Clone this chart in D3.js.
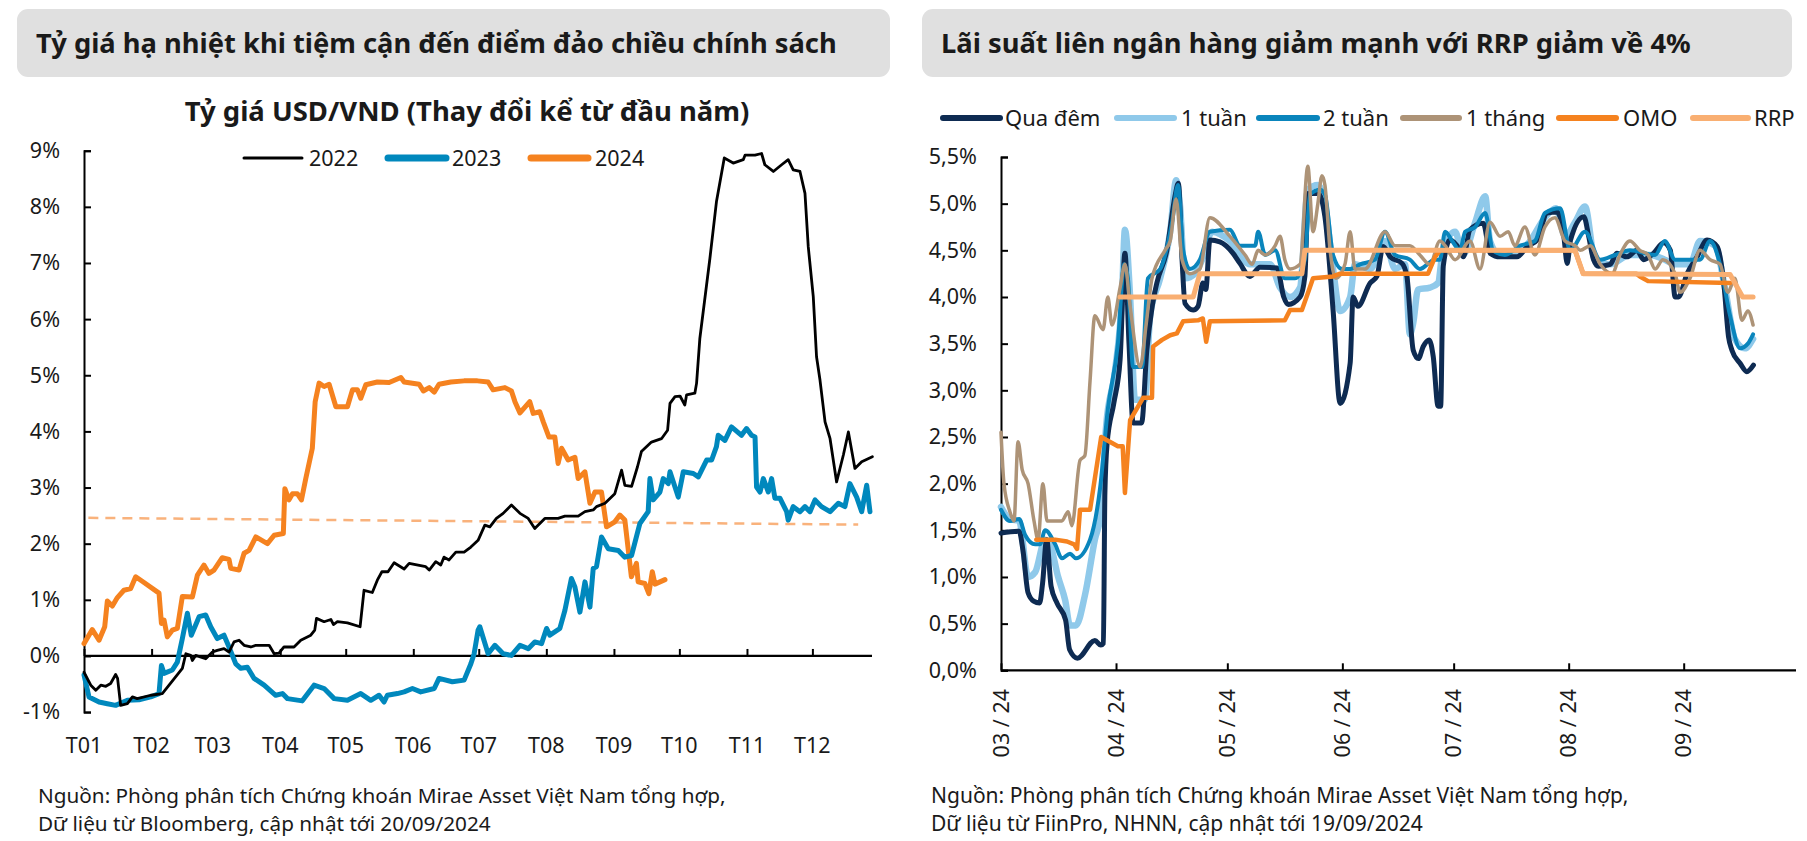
<!DOCTYPE html>
<html><head><meta charset="utf-8">
<script src="https://cdn.jsdelivr.net/npm/d3@7"></script>
<style>
body{margin:0;background:#fff;}
text{font-family:"Noto Sans","Open Sans",sans-serif;fill:#1a1a1a;}
</style>
</head><body>
<svg id="c" width="1807" height="841"></svg>
<script>
// ---------------- LEFT CHART DATA (day of year, % change YTD) ----------------
const leftYears = ["2022", "2023", "2024"];
const monthDays = [0,31,59,90,120,151,181,212,243,273,304,334];
const monthLabels = ["T01","T02","T03","T04","T05","T06","T07","T08","T09","T10","T11","T12"];
const leftYTicks = [-1,0,1,2,3,4,5,6,7,8,9];

const fx2022 = [[0,-0.29],[3.1,-0.52],[5.4,-0.61],[7.7,-0.52],[10,-0.54],[12.2,-0.49],[14.5,-0.33],[15.4,-0.40],[16.8,-0.88],[19.9,-0.85],[22.2,-0.73],[24.4,-0.76],[30.6,-0.70],[35.9,-0.67],[39,-0.52],[42.1,-0.37],[45.1,-0.22],[46.7,0.04],[48.9,0.01],[49.7,-0.08],[51.2,0.01],[55.8,-0.05],[58.9,0.07],[61.1,0.10],[64.2,0.13],[66.5,0.07],[68.8,0.25],[71.1,0.28],[73.4,0.19],[76.5,0.16],[78.8,0.19],[84.9,0.19],[87.2,0.04],[89.4,0.05],[91.7,0.16],[96.3,0.16],[99.4,0.28],[104,0.37],[105.8,0.46],[106.6,0.67],[110.1,0.61],[113.2,0.65],[114.4,0.56],[116.2,0.61],[120.8,0.59],[126.6,0.52],[128.4,1.17],[132.2,1.13],[134.5,1.35],[136.6,1.50],[139.4,1.50],[142.2,1.66],[146.8,1.55],[149.1,1.65],[156.7,1.59],[158.3,1.53],[161.3,1.68],[163.6,1.62],[165.1,1.76],[167.4,1.71],[170.5,1.85],[174.3,1.85],[177.4,1.94],[180.7,2.06],[183.8,2.33],[186.1,2.30],[189.1,2.45],[192.2,2.54],[196,2.69],[199.9,2.54],[203.7,2.45],[206.7,2.27],[211.3,2.45],[217.4,2.45],[220.5,2.49],[226.6,2.49],[229.7,2.57],[233.5,2.60],[235,2.66],[238.9,2.72],[243.4,2.89],[246.5,3.31],[248,3.04],[251.1,3.02],[253.8,3.37],[255.6,3.64],[260.2,3.81],[264.8,3.87],[267.6,4.02],[268.7,4.50],[271,4.62],[273.3,4.63],[275.5,4.47],[276.3,4.65],[280.1,4.68],[280.9,4.86],[282.4,5.66],[287,7.08],[290,8.09],[293.6,8.87],[297.7,8.78],[302.3,8.84],[303.1,8.92],[307.7,8.92],[310.7,8.95],[312.2,8.75],[316.1,8.63],[319.9,8.75],[322.9,8.84],[325.2,8.66],[328.3,8.63],[330.6,8.24],[332.1,7.29],[334.4,6.40],[335.9,5.33],[337.5,4.91],[339.8,4.17],[342.1,3.87],[345.1,3.10],[348.2,3.58],[350.5,3.99],[353.5,3.34],[356.6,3.46],[361.5,3.55]];

const fx2023 = [[0,-0.34],[2.3,-0.73],[6.9,-0.82],[10.7,-0.85],[14.5,-0.88],[19.9,-0.79],[25.2,-0.78],[30.6,-0.73],[34.4,-0.67],[35.5,-0.17],[36.7,-0.31],[40.5,-0.25],[42.8,-0.11],[45.1,0.31],[47.4,0.76],[49.2,0.37],[51.2,0.55],[52.8,0.70],[55.8,0.73],[58.1,0.52],[61.1,0.31],[64.2,0.37],[66.5,0.16],[69.6,-0.14],[71.9,-0.22],[74.9,-0.20],[78,-0.40],[82.6,-0.52],[87.9,-0.70],[91,-0.67],[93.3,-0.76],[100.1,-0.80],[105.5,-0.52],[110.1,-0.58],[114.7,-0.76],[120.8,-0.79],[126.9,-0.67],[131.5,-0.79],[135.3,-0.70],[137.6,-0.82],[139.1,-0.70],[143.7,-0.67],[146.8,-0.64],[150.6,-0.58],[154.4,-0.64],[160.6,-0.58],[162.8,-0.40],[168.9,-0.46],[174.3,-0.43],[177.4,-0.14],[178.9,0.04],[180.7,0.46],[181.5,0.52],[185.3,0.04],[188.4,0.19],[192.2,0.04],[196,0.01],[199.9,0.19],[203.7,0.13],[206.7,0.25],[209.8,0.22],[212.1,0.49],[213.6,0.37],[218.2,0.49],[220.5,0.81],[223.5,1.38],[225.1,1.23],[227.4,0.78],[229.7,1.32],[232,0.87],[233.5,1.56],[235,1.59],[237.3,2.12],[240.4,1.91],[245,1.88],[248,1.76],[251.1,1.79],[254.9,2.36],[258.7,2.57],[259.5,3.16],[261,2.78],[264.1,2.92],[265.6,3.16],[267.9,3.07],[268.7,3.28],[272.5,2.83],[274.8,3.28],[279.4,3.25],[281.7,3.19],[285.5,3.49],[287.8,3.49],[290,3.73],[290.8,3.93],[293.9,3.84],[296.9,4.08],[301.5,3.93],[303.8,4.05],[306.1,3.93],[307.7,3.90],[308.4,3.01],[310,2.92],[311.5,3.16],[313.8,2.92],[315.3,3.16],[316.8,2.81],[319.1,2.81],[322.2,2.57],[322.9,2.42],[325.2,2.66],[328.3,2.57],[330.6,2.66],[332.9,2.57],[335.2,2.78],[338.2,2.66],[342.1,2.57],[345.9,2.72],[348.9,2.66],[351.2,3.07],[354.3,2.83],[356.6,2.57],[358.9,3.04],[360.4,2.57]];

const fx2024 = [[0,0.22],[3.8,0.47],[6.9,0.28],[9.5,0.52],[10.7,0.98],[13,0.89],[15.3,1.04],[18.3,1.17],[21.4,1.20],[23.7,1.41],[26.7,1.33],[34.4,1.12],[35.5,0.58],[36.7,0.64],[38.2,0.34],[40.5,0.46],[42.8,0.49],[45.1,1.06],[49.7,1.05],[52,1.44],[55,1.62],[57.3,1.47],[59.6,1.53],[63.4,1.75],[66.5,1.72],[67.3,1.56],[71.1,1.53],[73.4,1.83],[75.7,1.88],[78.8,2.12],[84.1,2.00],[87.2,2.15],[91.4,2.18],[92.1,2.98],[94,2.78],[95.6,2.89],[97.8,2.89],[99.7,2.78],[101.7,3.16],[104.7,3.70],[106,4.53],[107.8,4.86],[110.1,4.80],[112.4,4.84],[115.5,4.44],[120.8,4.44],[123.1,4.74],[125.4,4.74],[126.9,4.59],[129.2,4.83],[134.5,4.88],[139.9,4.87],[145.3,4.96],[146.8,4.88],[153.7,4.84],[155.6,4.72],[158.3,4.78],[160.6,4.70],[162.8,4.84],[168.2,4.88],[174.3,4.90],[180.4,4.90],[185.3,4.88],[187.6,4.74],[193,4.78],[196,4.72],[197.6,4.53],[199.9,4.33],[204.4,4.53],[206,4.32],[209,4.35],[210.6,4.17],[213.2,3.90],[215.9,3.90],[217.4,3.43],[219,3.70],[222,3.49],[225.1,3.54],[226.6,3.16],[229.7,3.28],[232,2.72],[234.3,2.92],[237.3,2.92],[239.6,2.30],[243.4,2.39],[245.7,2.51],[248,2.42],[251,1.41],[253.3,1.65],[254.1,1.32],[257.2,1.29],[259,1.11],[260.6,1.50],[261.8,1.28],[266.4,1.36]];

const trend2024 = [[2,2.46],[355,2.34]];

// ---------------- RIGHT CHART DATA (days since 01/03/2024, %) ----------------
const rateNames = ["Qua đêm","1 tuần","2 tuần","1 tháng","OMO","RRP"];
const rMonthLabels = ["03 / 24","04 / 24","05 / 24","06 / 24","07 / 24","08 / 24","09 / 24"];
const rYTicks = [0,0.5,1,1.5,2,2.5,3,3.5,4,4.5,5,5.5];

const rOvernight = [[0,1.47],[4.9,1.49],[5.9,1.29],[7.3,0.83],[8.8,0.74],[10.4,0.72],[11.2,0.93],[12.3,1.40],[13.5,0.90],[15.1,0.72],[17.4,0.54],[18.5,0.22],[20.6,0.13],[25.3,0.32],[26.9,0.27],[27.6,0.29],[28.0,1.9],[28.6,2.43],[30.4,2.86],[32.1,3.33],[33.4,4.47],[34.5,3.5],[35.6,2.65],[37.9,2.65],[39.3,3.43],[40.6,3.86],[42.0,4.15],[44.7,4.50],[46.9,5.08],[47.8,5.22],[48.8,4.40],[49.6,3.93],[51.8,3.86],[53.1,3.90],[54.4,4.15],[55.2,4.08],[56.3,4.61],[59.0,4.59],[62.5,4.47],[64.4,4.36],[67.1,4.22],[69.8,4.32],[74.4,4.31],[76.2,4.00],[77.4,3.92],[80.6,4.00],[81.9,4.22],[82.8,5.11],[85.5,5.11],[87.3,4.86],[89.5,3.86],[91.4,2.86],[94.1,3.29],[94.9,4.00],[96.2,3.90],[99.5,4.15],[101.3,4.22],[103.0,4.54],[104.9,4.43],[108.1,4.36],[109.4,4.22],[111.1,3.43],[112.5,3.34],[113.8,3.47],[115.4,3.54],[116.5,3.36],[117.8,2.83],[118.5,2.83],[119.2,4.33],[121.0,4.61],[123.7,4.50],[124.6,4.43],[126.4,4.72],[130.0,4.79],[131.8,4.47],[134.5,4.43],[139.1,4.43],[141.8,4.54],[144.5,4.61],[147.2,4.90],[149.9,4.91],[151.7,4.65],[152.6,4.36],[153.5,4.61],[157.1,4.86],[158.4,4.65],[159.7,4.40],[161.0,4.33],[164.2,4.35],[166.0,4.47],[168.7,4.43],[171.4,4.50],[173.2,4.40],[175.9,4.47],[178.6,4.58],[180.4,4.50],[181.7,4.00],[182.6,4.00],[184.9,4.25],[187.6,4.43],[190.3,4.61],[193.0,4.54],[194.8,4.15],[196.1,3.57],[197.0,3.43],[199.2,3.29],[201.0,3.20],[202.8,3.27]];

const r1Week = [[0,1.75],[2.4,1.62],[4.9,1.6],[7.3,1.0],[9.2,1.05],[11.9,1.4],[13.2,1.35],[15.4,1.0],[17.3,0.75],[18.6,0.48],[20.2,0.48],[22.6,0.8],[25.3,1.4],[27,1.7],[28.3,2.6],[30.7,3.2],[32.6,4.0],[33.4,4.72],[34.8,4.0],[36.1,2.9],[38.8,2.9],[40.2,3.8],[42.9,4.2],[45.6,4.7],[47.2,5.25],[48.2,5.0],[49.6,4.2],[52.3,4.25],[54.2,4.4],[56.9,4.7],[61.7,4.6],[67.1,4.35],[72.5,4.35],[75.2,4.1],[77.9,4.0],[80.6,4.1],[82.7,5.15],[85.4,5.2],[87.3,5.0],[89.5,4.3],[91.4,3.85],[94.1,4.0],[95.4,4.35],[99.5,4.3],[103.5,4.6],[106.2,4.3],[108.9,4.35],[110.2,3.6],[111.1,3.72],[112.4,4.08],[115.6,4.1],[117.8,4.15],[119.1,4.5],[122.4,4.7],[124.5,4.45],[127.8,4.8],[130.5,5.08],[131.8,4.6],[134.5,4.45],[138.5,4.45],[142.6,4.6],[146.6,4.85],[149.6,4.95],[152,4.65],[154.7,4.8],[157.4,4.97],[160.1,4.4],[164.2,4.35],[169.5,4.45],[174.9,4.45],[178.9,4.4],[181.7,4.35],[185.7,4.35],[188.4,4.6],[192.5,4.55],[195.1,4.1],[197.8,3.55],[200.5,3.45],[202.7,3.55]];

const r2Week = [[0,1.72],[2.4,1.6],[4.9,1.62],[6.5,1.45],[9.2,1.35],[10.5,1.35],[11.9,1.5],[14.6,1.35],[16.4,1.2],[18.6,1.25],[20.2,1.2],[24,1.4],[26.7,1.95],[28.8,2.8],[31.5,3.5],[33.2,4.35],[34.2,4.2],[35.6,3.25],[38,3.25],[39.6,4.2],[42.9,4.3],[46.1,4.8],[47.7,5.2],[49.1,4.5],[50.9,4.3],[53.6,4.4],[56.3,4.7],[61.7,4.72],[64.4,4.55],[68.5,4.55],[69.3,4.7],[71.2,4.45],[73.9,4.5],[76.5,4.2],[79.2,4.2],[81.9,4.4],[83.3,5.1],[86,5.15],[87.3,5.1],[89.5,4.45],[91.9,4.3],[94.1,4.3],[96.8,4.35],[100.8,4.4],[103.5,4.7],[106.2,4.45],[110.2,4.4],[112.9,4.3],[116.9,4.4],[118.3,4.4],[119.7,4.7],[121.6,4.6],[123.7,4.5],[125.1,4.7],[127.8,4.75],[130.5,4.9],[132.6,4.5],[135.8,4.45],[139.9,4.55],[143.9,4.6],[146.6,4.9],[150.7,4.95],[153.4,4.5],[157.4,4.7],[161.5,4.4],[165.5,4.45],[169.5,4.5],[176.3,4.45],[178.9,4.6],[181.7,4.4],[185.7,4.4],[188.4,4.4],[191.1,4.6],[193.8,4.35],[196.5,3.8],[199.2,3.45],[201.3,3.5],[202.7,3.6]];

const r1Month = [[0,2.55],[0.8,2.0],[2.4,1.7],[3.5,1.6],[4.6,2.45],[5.7,2.15],[7.3,2.0],[8.9,1.6],[10,1.4],[11.3,2.0],[12.4,1.6],[13.7,1.6],[16.4,1.6],[18.1,1.7],[19.1,1.55],[21.3,2.25],[22.6,2.3],[24,3.1],[25.3,3.8],[27.5,3.65],[28.8,4.0],[29.9,3.7],[32.1,4.1],[33.4,4.35],[34.8,3.9],[37.5,3.25],[39.1,3.7],[40.7,4.2],[44.2,4.5],[45.6,4.6],[47.2,5.05],[48.8,4.4],[50.9,4.25],[53.6,4.3],[56.3,4.85],[61.7,4.65],[65.8,4.45],[67.7,4.35],[69.3,4.5],[71.2,4.45],[73.9,4.55],[75.2,4.65],[76.5,4.4],[77.9,4.3],[80.6,4.35],[82.7,5.4],[84.1,4.7],[85.4,5.0],[86.5,5.3],[87.3,5.2],[88.7,4.5],[90.3,4.2],[92.7,4.35],[94.1,4.7],[95.4,4.3],[98.1,4.3],[103.5,4.7],[106.2,4.55],[110.2,4.55],[112.9,4.45],[115.6,4.35],[118.3,4.6],[119.7,4.55],[122.4,4.4],[126.4,4.6],[129.1,4.3],[131.8,4.8],[134.5,4.65],[136.7,4.7],[138.5,4.55],[141.2,4.75],[143.9,4.45],[146.6,4.75],[149.3,4.85],[152,4.6],[154.7,4.55],[156.1,4.5],[158.8,4.55],[161.5,4.35],[164.7,4.25],[166.8,4.45],[169.5,4.6],[172.2,4.5],[174.4,4.45],[176.3,4.3],[178.4,4.4],[181.7,4.25],[183,4.05],[185.7,4.2],[188.4,4.5],[191.1,4.4],[193.8,4.35],[195.9,4.05],[197.8,4.2],[199.7,3.75],[201.3,3.85],[202.7,3.7]];

const rOMO = [[9.5,1.40],[14.6,1.40],[17.8,1.38],[19.7,1.35],[20.5,1.30],[21.3,1.72],[24,1.72],[27,2.50],[31.5,2.40],[32.8,2.40],[33.4,1.90],[34.8,2.68],[38.3,2.92],[40.7,2.92],[41,3.47],[43.4,3.54],[45.6,3.59],[47.4,3.61],[49.1,3.74],[53.1,3.75],[54.4,3.77],[55.3,3.52],[56.3,3.74],[76.5,3.75],[77.9,3.86],[81.1,3.86],[82.7,4.04],[84.1,4.20],[89.5,4.22],[91.4,4.25],[115.1,4.25],[117,4.43],[118.3,4.50],[154.7,4.50],[156.9,4.25],[171.2,4.25],[172.2,4.22],[174.4,4.17],[196.5,4.15]];

const rRRP = [[32.1,4.0],[51.8,4.0],[53.6,4.25],[81.1,4.25],[81.9,4.5],[154.7,4.5],[156.9,4.25],[196.5,4.24],[199.9,4.0],[202.7,4.0]];

// ---------------- DRAWING ----------------
const svg = d3.select("#c");
const FONT = '"Noto Sans","Open Sans",sans-serif';

function fit(t, w) {
  const l = t.node().getComputedTextLength();
  const fs = parseFloat(t.attr("font-size"));
  t.attr("font-size", (fs * w / l).toFixed(2));
}

// title boxes
[[17, 890, "Tỷ giá hạ nhiệt khi tiệm cận đến điểm đảo chiều chính sách", 36, 801],
 [922, 1792, "Lãi suất liên ngân hàng giảm mạnh với RRP giảm về 4%", 941, 750]].forEach(([x0, x1, txt, tx, tw]) => {
  svg.append("rect").attr("x", x0).attr("y", 9).attr("width", x1 - x0).attr("height", 68)
    .attr("rx", 11).attr("fill", "#e0e0e0");
  const t = svg.append("text").attr("x", tx).attr("y", 53).attr("font-size", 25)
    .attr("font-weight", 700).text(txt);
  fit(t, tw);
});

// ---- LEFT CHART ----
const xL = d3.scaleLinear().domain([0, 365]).range([84, 880]);
const yL = d3.scaleLinear().domain([-1, 9]).range([712.1, 150.7]);

const st = svg.append("text").attr("x", 467).attr("y", 121).attr("text-anchor", "middle")
  .attr("font-size", 23).attr("font-weight", 700).text("Tỷ giá USD/VND (Thay đổi kể từ đầu năm)");
fit(st, 565);

const gL = svg.append("g");
const yAxL = d3.axisLeft(yL).tickValues(leftYTicks).tickSize(-7).tickPadding(24)
  .tickFormat(d => d + "%");
const gyL = gL.append("g").attr("transform", "translate(84,0)").call(yAxL);
gyL.select(".domain").attr("stroke", "#000").attr("stroke-width", 2);
gyL.selectAll(".tick line").attr("stroke", "#000").attr("stroke-width", 2);
gyL.selectAll(".tick text").attr("font-size", 21.5).attr("font-family", FONT).attr("fill", "#1a1a1a");

const xAxL = d3.axisBottom(xL).tickValues(monthDays).tickSize(-7).tickFormat("");
const gxL = gL.append("g").attr("transform", `translate(0,${yL(0)})`).call(xAxL);
gxL.select(".domain").remove();
gxL.selectAll(".tick line").attr("stroke", "#000").attr("stroke-width", 2);
gL.append("line").attr("x1", xL(0)).attr("x2", 872).attr("y1", yL(0)).attr("y2", yL(0))
  .attr("stroke", "#000").attr("stroke-width", 2.2);
gL.selectAll(".mlab").data(monthDays).join("text").attr("class", "mlab")
  .attr("x", d => xL(d)).attr("y", 753).attr("text-anchor", "middle").attr("font-size", 21.5)
  .text((d, i) => monthLabels[i]);

const lineL = d3.line().x(d => xL(d[0])).y(d => yL(d[1]));
gL.append("path").datum(trend2024).attr("d", lineL).attr("fill", "none")
  .attr("stroke", "#F9B27C").attr("stroke-width", 2.5).attr("stroke-dasharray", "10,7");
const leftSeries = [
  {data: fx2024, color: "#F5821F", w: 5},
  {data: fx2023, color: "#0088BD", w: 5},
  {data: fx2022, color: "#000000", w: 2.8}
];
leftSeries.forEach(s => {
  gL.append("path").datum(s.data).attr("d", lineL).attr("fill", "none")
    .attr("stroke", s.color).attr("stroke-width", s.w)
    .attr("stroke-linejoin", "round").attr("stroke-linecap", "round");
});

const legL = [
  {name: leftYears[0], color: "#000", w: 3, x0: 244, x1: 302, tx: 309},
  {name: leftYears[1], color: "#0088BD", w: 7, x0: 388, x1: 446, tx: 452},
  {name: leftYears[2], color: "#F5821F", w: 7, x0: 531, x1: 588, tx: 595}
];
legL.forEach(l => {
  svg.append("line").attr("x1", l.x0).attr("x2", l.x1).attr("y1", 158).attr("y2", 158)
    .attr("stroke", l.color).attr("stroke-width", l.w).attr("stroke-linecap", "round");
  svg.append("text").attr("x", l.tx).attr("y", 158).attr("dy", "0.35em").attr("font-size", 21.5).text(l.name);
});

// ---- RIGHT CHART ----
const t0 = new Date(2024, 2, 1);
const toDate = d => new Date(t0.getTime() + d * 86400000);
const xR = d3.scaleTime().domain([t0, new Date(2024, 9, 1)]).range([1001, 1795]);
const yR = d3.scaleLinear().domain([0, 5.5]).range([670.3, 157]);
const gR = svg.append("g");
const fmtR = d => d3.format(".1f")(d).replace(".", ",") + "%";
const yAxR = d3.axisLeft(yR).tickValues(rYTicks).tickSize(-7).tickPadding(24).tickFormat(fmtR);
const gyR = gR.append("g").attr("transform", "translate(1001,0)").call(yAxR);
gyR.select(".domain").attr("stroke", "#000").attr("stroke-width", 2);
gyR.selectAll(".tick line").attr("stroke", "#000").attr("stroke-width", 2);
gyR.selectAll(".tick text").attr("font-size", 21.5).attr("font-family", FONT).attr("fill", "#1a1a1a");

const rMonths = d3.range(7).map(i => new Date(2024, 2 + i, 1));
const xAxR = d3.axisBottom(xR).tickValues(rMonths).tickSize(-7).tickFormat("");
const gxR = gR.append("g").attr("transform", `translate(0,${yR(0)})`).call(xAxR);
gxR.select(".domain").remove();
gxR.selectAll(".tick line").attr("stroke", "#000").attr("stroke-width", 2);
gR.append("line").attr("x1", 1001).attr("x2", 1796).attr("y1", yR(0)).attr("y2", yR(0))
  .attr("stroke", "#000").attr("stroke-width", 2.2);
gR.selectAll(".rlab").data(rMonths).join("text").attr("class", "rlab")
  .attr("transform", d => `translate(${xR(d)},689) rotate(-90)`)
  .attr("text-anchor", "end").attr("dy", "0.36em").attr("font-size", 21.5)
  .text((d, i) => rMonthLabels[i]);

const lineSmooth = d3.line().x(d => xR(toDate(d[0]))).y(d => yR(d[1])).curve(d3.curveMonotoneX);
const lineStep = d3.line().x(d => xR(toDate(d[0]))).y(d => yR(d[1]));
const rSeries = [
  {name: rateNames[1], data: r1Week, color: "#8FC9EA", w: 6.5, gen: lineSmooth},
  {name: rateNames[0], data: rOvernight, color: "#0E2B52", w: 5, gen: lineSmooth},
  {name: rateNames[2], data: r2Week, color: "#0A85BC", w: 4, gen: lineSmooth},
  {name: rateNames[3], data: r1Month, color: "#AD9377", w: 3.5, gen: lineSmooth},
  {name: rateNames[4], data: rOMO, color: "#F5821F", w: 4.5, gen: lineStep},
  {name: rateNames[5], data: rRRP, color: "#F9AF72", w: 5, gen: lineStep}
];
rSeries.forEach(s => {
  gR.append("path").datum(s.data).attr("d", s.gen).attr("fill", "none")
    .attr("stroke", s.color).attr("stroke-width", s.w)
    .attr("stroke-linejoin", "round").attr("stroke-linecap", "round");
});

const legR = [
  {name: rateNames[0], color: "#0E2B52", x0: 943, x1: 1000, tx: 1005},
  {name: rateNames[1], color: "#8FC9EA", x0: 1117, x1: 1174, tx: 1181},
  {name: rateNames[2], color: "#0A85BC", x0: 1259, x1: 1317, tx: 1323},
  {name: rateNames[3], color: "#AD9377", x0: 1403, x1: 1459, tx: 1466},
  {name: rateNames[4], color: "#F5821F", x0: 1559, x1: 1616, tx: 1623},
  {name: rateNames[5], color: "#F9AF72", x0: 1693, x1: 1748, tx: 1754}
];
legR.forEach(l => {
  svg.append("line").attr("x1", l.x0).attr("x2", l.x1).attr("y1", 118).attr("y2", 118)
    .attr("stroke", l.color).attr("stroke-width", 6).attr("stroke-linecap", "round");
  svg.append("text").attr("x", l.tx).attr("y", 118).attr("dy", "0.35em").attr("font-size", 22).text(l.name);
});

// footnotes
[[38, ["Nguồn: Phòng phân tích Chứng khoán Mirae Asset Việt Nam tổng hợp,", "Dữ liệu từ Bloomberg, cập nhật tới 20/09/2024"], 688],
 [931, ["Nguồn: Phòng phân tích Chứng khoán Mirae Asset Việt Nam tổng hợp,", "Dữ liệu từ FiinPro, NHNN, cập nhật tới 19/09/2024"], 698]].forEach(([x, lines, w]) => {
  const t1 = svg.append("text").attr("x", x).attr("y", 803).attr("font-size", 20).text(lines[0]);
  fit(t1, w);
  svg.append("text").attr("x", x).attr("y", 831).attr("font-size", t1.attr("font-size")).text(lines[1]);
});
</script>
</body></html>
